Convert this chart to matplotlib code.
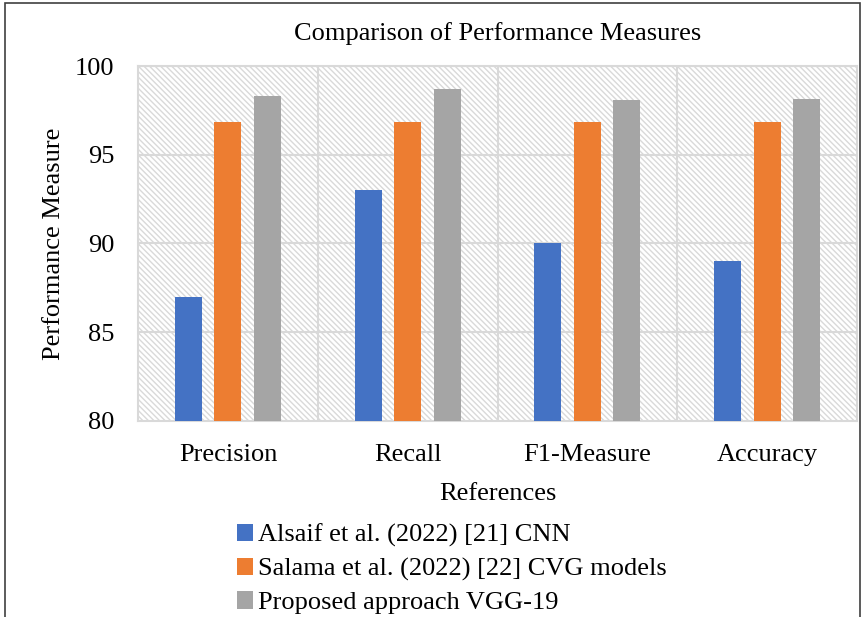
import matplotlib
matplotlib.use("Agg")
import matplotlib.pyplot as plt
import numpy as np
from matplotlib.patches import Rectangle

# 数据
categories = ["Precision", "Recall", "F1-Measure", "Accuracy"]
series_names = [
    "Alsaif et al. (2022) [21] CNN",
    "Salama et al. (2022) [22] CVG models",
    "Proposed approach VGG-19",
]
alsaif = [87.0, 93.0, 90.0, 89.0]
salama = [96.86, 96.86, 96.86, 96.86]
proposed = [98.3, 98.7, 98.1, 98.16]
yticks = [80, 85, 90, 95, 100]

colors = ["#4472c4", "#ed7d31", "#a5a5a5"]
grid_c = "#d9d9d9"

plt.rcParams["font.family"] = ["Liberation Serif", "DejaVu Serif"]
plt.rcParams["hatch.color"] = grid_c
plt.rcParams["hatch.linewidth"] = 1.0

fig = plt.figure(figsize=(8.63, 6.17), dpi=100)
ax = fig.add_axes([0.160, 0.318, 0.833, 0.575])

x = np.arange(len(categories))
ax.set_xlim(-0.5, len(categories) - 0.5)
ax.set_ylim(80, 100)

# 绘图区背景的斜线填充
ax.add_patch(Rectangle((-0.5, 80), len(categories), 20, facecolor="white",
                       hatch="\\" * 6, edgecolor=grid_c, linewidth=0, zorder=0))

width = 0.15
offsets = [-0.22, 0.0, 0.22]
for vals, c, off, name in zip([alsaif, salama, proposed], colors, offsets, series_names):
    ax.bar(x + off, np.array(vals) - 80, width=width, bottom=80, color=c,
           label=name, zorder=3)

# 网格
for yv in yticks[1:]:
    ax.axhline(yv, color=grid_c, lw=1.5, zorder=1)
for xv in np.arange(0.5, len(categories) - 0.5):
    ax.axvline(xv, color=grid_c, lw=1.5, zorder=1)
for s in ax.spines.values():
    s.set_color(grid_c)
    s.set_linewidth(1.5)

fs = 19
ax.set_xticks(x)
ax.set_xticklabels(categories, fontsize=fs)
ax.set_yticks(yticks)
ax.set_yticklabels([str(v) for v in yticks], fontsize=fs)
ax.tick_params(axis="x", length=0, pad=17)
ax.tick_params(axis="y", length=0, pad=17)

ax.set_title("Comparison of Performance Measures", fontsize=fs, pad=19)
ax.set_ylabel("Performance Measure", fontsize=fs, labelpad=7)
ax.set_xlabel("References", fontsize=fs, labelpad=12)

ax.legend(loc="upper left", bbox_to_anchor=(0.137, -0.29), frameon=False,
          fontsize=fs, handlelength=0.62, handleheight=0.62, handletextpad=0.2,
          labelspacing=0.4, borderaxespad=0, borderpad=0)

# 外框
fig.patches.append(Rectangle((5 / 863, -0.1), 855 / 863, 1.1 - 3 / 617,
                             transform=fig.transFigure, fill=False,
                             edgecolor="#3f3f3f", lw=1.2))

fig.savefig("out.png", dpi=100)
